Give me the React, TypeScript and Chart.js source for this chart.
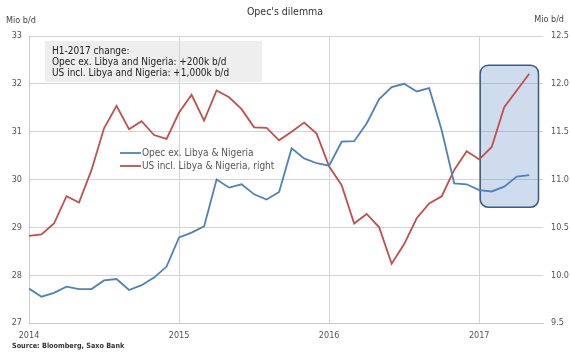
import React, { useEffect, useRef } from 'react';
import { Chart, registerables } from 'chart.js';
Chart.register(...registerables);

const months = [
  '2014-01','2014-02','2014-03','2014-04','2014-05','2014-06','2014-07','2014-08','2014-09','2014-10','2014-11','2014-12',
  '2015-01','2015-02','2015-03','2015-04','2015-05','2015-06','2015-07','2015-08','2015-09','2015-10','2015-11','2015-12',
  '2016-01','2016-02','2016-03','2016-04','2016-05','2016-06','2016-07','2016-08','2016-09','2016-10','2016-11','2016-12',
  '2017-01','2017-02','2017-03','2017-04','2017-05'
];

const opec = [
  27.72, 27.55, 27.63, 27.76, 27.71, 27.71, 27.89, 27.92, 27.69, 27.79, 27.95, 28.18,
  28.79, 28.89, 29.02, 30.0, 29.83, 29.90, 29.69, 29.58, 29.74, 30.65, 30.44, 30.34,
  30.29, 30.79, 30.80, 31.17, 31.68, 31.93, 32.0, 31.84, 31.91, 31.03, 29.92, 29.90,
  29.78, 29.75, 29.85, 30.06, 30.09
];

const us = [
  10.41, 10.425, 10.54, 10.825, 10.76, 11.10, 11.535, 11.77, 11.525, 11.61, 11.465, 11.425,
  11.70, 11.885, 11.615, 11.93, 11.86, 11.735, 11.545, 11.54, 11.41, 11.50, 11.595, 11.48,
  11.135, 10.94, 10.54, 10.64, 10.50, 10.12, 10.325, 10.595, 10.75, 10.825, 11.10, 11.295,
  11.21, 11.34, 11.755, 11.93, 12.105
];

const yearTicks = [0, 12, 24, 36];
const yearLabels = ['2014', '2015', '2016', '2017'];
const seriesNames = ['Opec ex. Libya & Nigeria', 'US incl. Libya & Nigeria, right'];
const seriesColors = ['#4f81bd', '#c0504d'];
const noteLines = ['H1-2017 change:', 'Opec ex. Libya and Nigeria: +200k b/d', 'US incl. Libya and Nigeria: +1,000k b/d'];
const titleText = "Opec's dilemma";
const unitText = 'Mio b/d';
const sourceText = 'Source: Bloomberg, Saxo Bank';
// highlighted period (x in month index, y in left-axis units)
const highlight = { x0: 36.08, x1: 40.74, y0: 29.42, y1: 32.39 };

const FONT = '"DejaVu Sans Condensed", "DejaVu Sans", sans-serif';

export default function App() {
  const ref = useRef<HTMLCanvasElement | null>(null);
  useEffect(() => {
    document.body.style.margin = '0';
    const canvas = ref.current!;
    const deco = {
      id: 'deco',
      beforeDraw(chart: any) {
        const ctx = chart.ctx;
        ctx.save();
        ctx.fillStyle = '#ffffff';
        ctx.fillRect(0, 0, chart.width, chart.height);
        // note box
        ctx.fillStyle = '#eeeeee';
        ctx.fillRect(45, 41, 217, 41);
        ctx.fillStyle = '#222';
        ctx.font = '10px ' + FONT;
        ctx.textBaseline = 'middle';
        ctx.textAlign = 'left';
        noteLines.forEach((t, i) => ctx.fillText(t, 52, 51 + i * 11));
        // title & units
        ctx.fillStyle = '#333';
        ctx.font = '10.5px ' + FONT;
        ctx.textAlign = 'center';
        ctx.fillText(titleText, 285, 12);
        ctx.font = '9px ' + FONT;
        ctx.fillStyle = '#444';
        ctx.textAlign = 'left';
        ctx.fillText(unitText, 6, 21);
        ctx.textAlign = 'right';
        ctx.fillText(unitText, 564, 20);
        // source
        ctx.textAlign = 'left';
        ctx.fillStyle = '#333';
        ctx.font = 'bold 7.2px ' + FONT;
        ctx.fillText(sourceText, 12, 346);
        ctx.restore();
      },
      beforeDatasetsDraw(chart: any) {
        const ctx = chart.ctx;
        const xs = chart.scales.x, ys = chart.scales.y;
        const x0 = xs.getPixelForValue(highlight.x0), x1 = xs.getPixelForValue(highlight.x1);
        const y0 = ys.getPixelForValue(highlight.y1), y1 = ys.getPixelForValue(highlight.y0);
        ctx.save();
        ctx.beginPath();
        ctx.roundRect(x0, y0, x1 - x0, y1 - y0, 8);
        ctx.fillStyle = 'rgba(79,129,189,0.28)';
        ctx.fill();
        ctx.lineWidth = 1.5;
        ctx.strokeStyle = '#3d5a80';
        ctx.stroke();
        ctx.restore();
      },
      afterDatasetsDraw(chart: any) {
        const ctx = chart.ctx;
        ctx.save();
        ctx.font = '10px ' + FONT;
        ctx.textBaseline = 'middle';
        ctx.textAlign = 'left';
        seriesNames.forEach((n, i) => {
          const y = 153 + i * 13;
          ctx.strokeStyle = seriesColors[i];
          ctx.lineWidth = 1.8;
          ctx.beginPath();
          ctx.moveTo(120, y);
          ctx.lineTo(141, y);
          ctx.stroke();
          ctx.fillStyle = '#555';
          ctx.fillText(n, 142, y);
        });
        ctx.restore();
      },
    };
    const tickFont = { family: FONT, size: 9 };
    const chart = new Chart(canvas, {
      type: 'line',
      data: {
        labels: months,
        datasets: [
          {
            label: seriesNames[0],
            data: opec.map((v, i) => ({ x: i, y: v })),
            borderColor: seriesColors[0],
            borderWidth: 1.8,
            pointRadius: 0,
            yAxisID: 'y',
          },
          {
            label: seriesNames[1],
            data: us.map((v, i) => ({ x: i, y: v })),
            borderColor: seriesColors[1],
            borderWidth: 1.8,
            pointRadius: 0,
            yAxisID: 'y1',
          },
        ],
      },
      options: {
        responsive: false,
        animation: false,
        layout: { padding: { top: 36, left: 0, right: 0, bottom: 0 } },
        plugins: { legend: { display: false }, title: { display: false }, tooltip: { enabled: false } },
        scales: {
          x: {
            type: 'linear',
            min: 0,
            max: 41.1,
            afterBuildTicks: (s: any) => { s.ticks = yearTicks.map((v) => ({ value: v })); },
            afterFit: (s: any) => { s.height = 34; },
            ticks: {
              autoSkip: false,
              maxRotation: 0,
              padding: 7,
              color: '#555',
              font: tickFont,
              callback: (v: any) => { const k = yearTicks.indexOf(Number(v)); return k >= 0 ? yearLabels[k] : ''; },
            },
            grid: { color: '#d4d4d4', drawTicks: false },
            border: { color: '#c8c8c8' },
          },
          y: {
            position: 'left',
            min: 27,
            max: 33,
            afterFit: (s: any) => { s.width = 29; },
            ticks: { stepSize: 1, padding: 7, color: '#555', font: tickFont },
            grid: { color: '#d4d4d4', drawTicks: false },
            border: { color: '#c8c8c8' },
          },
          y1: {
            position: 'right',
            min: 9.5,
            max: 12.5,
            afterFit: (s: any) => { s.width = 27; },
            ticks: { stepSize: 0.5, padding: 8, color: '#555', font: tickFont, callback: (v: any) => Number(v).toFixed(1) },
            grid: { display: false, drawTicks: false },
            border: { display: false },
          },
        },
      },
      plugins: [deco],
    } as any);
    return () => chart.destroy();
  }, []);
  return <canvas ref={ref} width={570} height={357} style={{ display: 'block' }} />;
}
